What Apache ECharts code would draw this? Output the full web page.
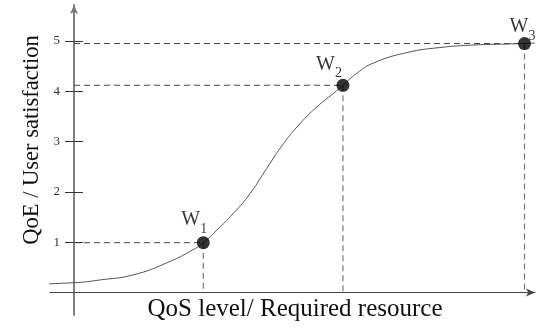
<!DOCTYPE html>
<html>
<head>
<meta charset="utf-8">
<script src="https://cdn.jsdelivr.net/npm/echarts@6/dist/echarts.min.js"></script>
<style>
  html, body { margin: 0; padding: 0; background: #fff; }
  #chart { width: 538px; height: 327px; }
</style>
</head>
<body>
<div id="chart"></div>
<script>
// curve (x = QoS level, y = QoE)
const qosLevel = [-1.49, 0, 0.58, 1.31, 2.06, 2.64, 2.87, 3.17, 3.54, 3.91, 4.28, 4.65, 5.02, 5.39, 5.76, 5.97, 6.28, 6.64, 7.39, 8.12, 8.86, 9.61, 10.0, 10.23]
const qoe      = [0.15, 0.195, 0.25, 0.35, 0.59, 0.85, 0.99, 1.24, 1.575, 1.97, 2.47, 2.96, 3.36, 3.69, 3.96, 4.12, 4.36, 4.56, 4.77, 4.87, 4.92, 4.94, 4.95, 4.96]

// the three marked operating points
const pointNames = ['1', '2', '3']
const pointX = [2.87, 5.97, 10.0]
const pointY = [0.99, 4.12, 4.95]

const yTicks = [1, 2, 3, 4, 5]

const font = 'Liberation Serif'
const labelOffsets = [[-9, 2], [-14, 4], [-2, 8]]

const curve = qosLevel.map((x, i) => [x, qoe[i]])

const series = [
  {
    type: 'line',
    data: curve,
    smooth: 0.5,
    showSymbol: false,
    clip: false,
    lineStyle: { color: '#555', width: 1 },
    z: 3
  }
]

pointX.forEach((x, i) => {
  series.push({
    type: 'line',
    data: [[0, pointY[i]], [x, pointY[i]]],
    showSymbol: false,
    lineStyle: { color: '#444', width: 1, type: [6, 4] },
    z: 2
  })
  series.push({
    type: 'line',
    data: [[x, pointY[i]], [x, 0]],
    showSymbol: false,
    lineStyle: { color: '#777', width: 1.2, type: [6, 4] },
    z: 2
  })
})

series.push({
  type: 'scatter',
  data: pointX.map((x, i) => ({
    value: [x, pointY[i]],
    label: { offset: labelOffsets[i], formatter: '{w|W}{s|' + pointNames[i] + '}' }
  })),
  symbolSize: 13,
  itemStyle: { color: '#000' },
  z: 5,
  label: {
    show: true,
    position: 'top',
    distance: 2,
    color: '#000',
    rich: {
      w: { fontFamily: font, fontSize: 20, color: '#000', padding: [0, 0, 6, 0], verticalAlign: 'bottom' },
      s: { fontFamily: font, fontSize: 14, color: '#000', verticalAlign: 'bottom' }
    }
  }
})

const xMin = -0.533, xMax = 10.233
const yMin = -0.447, yMax = 5.716

const chart = echarts.init(document.getElementById('chart'), null, { renderer: 'canvas' })
chart.setOption({
  animation: false,
  backgroundColor: '#fff',
  grid: { left: 50, right: 3, top: 5, bottom: 12, outerBoundsMode: 'none', containLabel: false },
  xAxis: [
    {
      type: 'value',
      min: xMin,
      max: xMax,
      axisLine: { onZero: true, onZeroAxisIndex: 0, symbol: ['none', 'arrow'], symbolSize: [6, 9], lineStyle: { color: '#444', width: 1.2 } },
      axisTick: { show: false },
      axisLabel: { show: false },
      splitLine: { show: false }
    },
    {
      // helper axis so the second y axis can also sit on x = 0
      type: 'value',
      min: xMin,
      max: xMax,
      axisLine: { show: false, onZero: false },
      axisTick: { show: false },
      axisLabel: { show: false },
      splitLine: { show: false }
    }
  ],
  yAxis: [
    {
      type: 'value',
      position: 'left',
      min: yMin,
      max: yMax,
      axisLine: { onZero: true, onZeroAxisIndex: 0, symbol: ['none', 'arrow'], symbolSize: [6, 9], lineStyle: { color: '#777', width: 1.5 } },
      axisTick: { show: true, inside: false, length: 9, customValues: yTicks, lineStyle: { color: '#333', width: 1 } },
      axisLabel: { customValues: yTicks, margin: -10, fontFamily: font, fontSize: 13, color: '#333' },
      splitLine: { show: false }
    },
    {
      type: 'value',
      position: 'right',
      min: yMin,
      max: yMax,
      axisLine: { onZero: true, onZeroAxisIndex: 1, lineStyle: { color: '#777', width: 1.5 } },
      axisTick: { show: true, inside: false, length: 9, customValues: yTicks, lineStyle: { color: '#333', width: 1 } },
      axisLabel: { show: false },
      splitLine: { show: false }
    }
  ],
  graphic: [
    {
      type: 'text',
      x: 32,
      y: 140,
      rotation: Math.PI / 2,
      style: {
        text: 'QoE / User satisfaction',
        fontFamily: font,
        fontSize: 22.5,
        fill: '#111',
        textAlign: 'center',
        textVerticalAlign: 'middle'
      }
    },
    {
      type: 'text',
      x: 295,
      y: 309,
      style: {
        text: 'QoS level/ Required resource',
        fontFamily: font,
        fontSize: 25,
        fill: '#111',
        textAlign: 'center',
        textVerticalAlign: 'middle'
      }
    }
  ],
  series: series
})
</script>
</body>
</html>
